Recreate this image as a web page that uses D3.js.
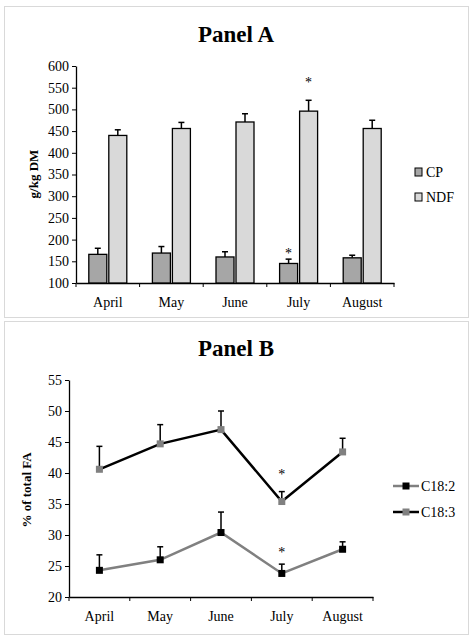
<!DOCTYPE html>
<html><head><meta charset="utf-8">
<script src="https://cdn.jsdelivr.net/npm/d3@7"></script>
<style>body{margin:0;background:#fff}text{font-family:"Liberation Serif",serif;fill:#000}</style>
</head><body>
<script>
// Panel A data
var months = ['April', 'May', 'June', 'July', 'August'];
var cp = [166, 169, 160, 145, 158];
var cpErr = [180, 184, 172, 155, 164];
var ndf = [440, 456, 471, 496, 456];
var ndfErr = [453, 470, 490, 521, 475];
var starsA = [{s: 'cp', m: 'July', v: 175}, {s: 'ndf', m: 'July', v: 570}];
var ticksA = [100, 150, 200, 250, 300, 350, 400, 450, 500, 550, 600];
// Panel B data
var c182 = [24.3, 26.0, 30.4, 23.8, 27.7];
var c182Err = [26.8, 28.1, 33.7, 25.3, 28.9];
var c183 = [40.6, 44.7, 47.0, 35.4, 43.4];
var c183Err = [44.3, 47.8, 50.0, 37.0, 45.6];
var starsB = [{m: 'July', v: 40.3}, {m: 'July', v: 27.8}];
var ticksB = [20, 25, 30, 35, 40, 45, 50, 55];

var svg = d3.select('body').append('svg').attr('width', 474).attr('height', 641);

svg.append('rect').attr('x', 4.5).attr('y', 6.5).attr('width', 464).attr('height', 311)
    .attr('fill', 'none').attr('stroke', '#d9d9d9');
svg.append('rect').attr('x', 4.5).attr('y', 321.5).attr('width', 464).attr('height', 313)
    .attr('fill', 'none').attr('stroke', '#d9d9d9');

function frame(g, x, y, tickVals, label, cy) {
    g.append('g').attr('transform', 'translate(0,' + y.range()[0] + ')')
        .call(d3.axisBottom(x).tickSize(4).tickSizeOuter(0).tickFormat(''))
        .call(function(a) { a.selectAll('.tick line').attr('transform', 'translate(' + (-x.step() / 2) + ',0)'); });
    g.append('line').attr('x1', x.range()[1]).attr('x2', x.range()[1])
        .attr('y1', y.range()[0]).attr('y2', y.range()[0] + 4).attr('stroke', '#000');
    g.append('g').attr('transform', 'translate(' + x.range()[0] + ',0)')
        .call(d3.axisLeft(y).tickValues(tickVals).tickSize(4).tickSizeOuter(0))
        .call(function(a) { a.selectAll('text').style('font-size', '14px'); });
    g.selectAll('.domain').attr('stroke', '#000').attr('stroke-width', 1.3);
    g.selectAll('.tick line').attr('stroke', '#000');
    g.selectAll('.mlab').data(months).enter().append('text')
        .attr('x', function(d) { return x(d) + x.bandwidth() / 2; })
        .attr('y', y.range()[0] + 24).attr('text-anchor', 'middle')
        .style('font-size', '14px').text(function(d) { return d; });
    g.append('text').attr('transform', 'translate(' + (x.range()[0] - 38) + ',' + cy + ') rotate(-90)')
        .attr('text-anchor', 'middle').style('font-size', '13px').style('font-weight', 'bold').text(label);
}

// ---- Panel A
var gA = svg.append('g');
gA.append('text').attr('x', 236).attr('y', 42).attr('text-anchor', 'middle')
    .style('font-size', '23px').style('font-weight', 'bold').text('Panel A');
var xA = d3.scaleBand().domain(months).range([76, 394]);
var yA = d3.scaleLinear().domain([100, 600]).range([283, 66]);
frame(gA, xA, yA, ticksA, 'g/kg DM', 174);

var bw = 18;
function barSeries(vals, errs, off, fill) {
    months.forEach(function(m, i) {
        var x0 = xA(m) + xA.bandwidth() / 2 + off;
        gA.append('line').attr('x1', x0 + bw / 2).attr('x2', x0 + bw / 2)
            .attr('y1', yA(vals[i])).attr('y2', yA(errs[i])).attr('stroke', '#000').attr('stroke-width', 1.5);
        gA.append('line').attr('x1', x0 + bw / 2 - 3).attr('x2', x0 + bw / 2 + 3)
            .attr('y1', yA(errs[i])).attr('y2', yA(errs[i])).attr('stroke', '#000').attr('stroke-width', 1.5);
        gA.append('rect').attr('x', x0).attr('y', yA(vals[i])).attr('width', bw)
            .attr('height', yA(100) - yA(vals[i])).attr('fill', fill).attr('stroke', '#000').attr('stroke-width', 1.3);
    });
}
barSeries(cp, cpErr, -bw - 1, '#a6a6a6');
barSeries(ndf, ndfErr, 1, '#d9d9d9');
starsA.forEach(function(s) {
    var off = s.s === 'cp' ? -bw / 2 - 1 : bw / 2 + 1;
    gA.append('text').attr('x', xA(s.m) + xA.bandwidth() / 2 + off).attr('y', yA(s.v) + 8)
        .attr('text-anchor', 'middle').style('font-size', '14px').text('*');
});
[['CP', '#a6a6a6', 172], ['NDF', '#d9d9d9', 197]].forEach(function(l) {
    gA.append('rect').attr('x', 415).attr('y', l[2] - 4).attr('width', 7).attr('height', 8)
        .attr('fill', l[1]).attr('stroke', '#000');
    gA.append('text').attr('x', 426).attr('y', l[2] + 5).style('font-size', '14px').text(l[0]);
});

// ---- Panel B
var gB = svg.append('g');
gB.append('text').attr('x', 236).attr('y', 356).attr('text-anchor', 'middle')
    .style('font-size', '23px').style('font-weight', 'bold').text('Panel B');
var xB = d3.scaleBand().domain(months).range([69, 373]);
var yB = d3.scaleLinear().domain([20, 55]).range([597, 380]);
frame(gB, xB, yB, ticksB, '% of total FA', 490);

function lineSeries(vals, errs, lineCol, markCol) {
    var cx = function(d, i) { return xB(months[i]) + xB.bandwidth() / 2; };
    months.forEach(function(m, i) {
        var x0 = cx(null, i);
        gB.append('line').attr('x1', x0).attr('x2', x0).attr('y1', yB(vals[i])).attr('y2', yB(errs[i]))
            .attr('stroke', '#000').attr('stroke-width', 1.5);
        gB.append('line').attr('x1', x0 - 3).attr('x2', x0 + 3).attr('y1', yB(errs[i])).attr('y2', yB(errs[i]))
            .attr('stroke', '#000').attr('stroke-width', 1.5);
    });
    gB.append('path').datum(vals)
        .attr('d', d3.line().x(cx).y(function(d) { return yB(d); }))
        .attr('fill', 'none').attr('stroke', lineCol).attr('stroke-width', 2.5);
    gB.selectAll(null).data(vals).enter().append('rect')
        .attr('x', function(d, i) { return cx(d, i) - 3.5; }).attr('y', function(d) { return yB(d) - 3.5; })
        .attr('width', 7).attr('height', 7).attr('fill', markCol);
}
lineSeries(c182, c182Err, '#808080', '#000');
lineSeries(c183, c183Err, '#000', '#808080');
starsB.forEach(function(s) {
    gB.append('text').attr('x', xB(s.m) + xB.bandwidth() / 2).attr('y', yB(s.v) + 8)
        .attr('text-anchor', 'middle').style('font-size', '14px').text('*');
});
[['C18:2', '#808080', '#000', 486], ['C18:3', '#000', '#808080', 512]].forEach(function(l) {
    gB.append('line').attr('x1', 393).attr('x2', 419).attr('y1', l[3]).attr('y2', l[3])
        .attr('stroke', l[1]).attr('stroke-width', 2.5);
    gB.append('rect').attr('x', 402.5).attr('y', l[3] - 3.5).attr('width', 7).attr('height', 7).attr('fill', l[2]);
    gB.append('text').attr('x', 421).attr('y', l[3] + 5).style('font-size', '14px').text(l[0]);
});
</script>
</body></html>
